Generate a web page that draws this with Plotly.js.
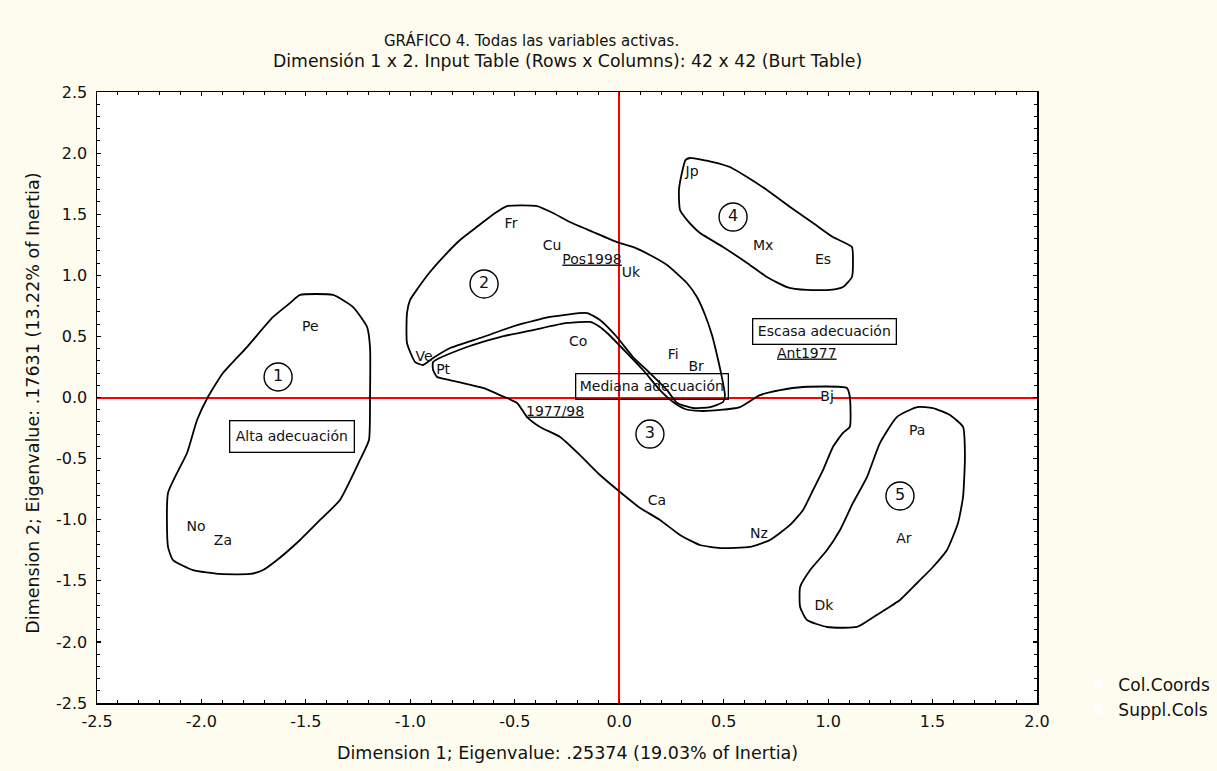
<!DOCTYPE html>
<html>
<head>
<meta charset="utf-8">
<script src="https://cdn.plot.ly/plotly-3.0.1.min.js"></script>
<style>html,body{margin:0;padding:0;background:#fefcee;}#chart{width:1217px;height:771px;}</style>
</head>
<body>
<div id="chart"></div>
<script>
// Active column categories (Col.Coords)
const colLabels = ["Pe","No","Za","Ve","Pt","Fr","Cu","Uk","Co","Fi","Br","Ca","Nz","Jp","Mx","Es","Bj","Pa","Ar","Dk"];
const colX = [-1.479,-2.026,-1.897,-0.934,-0.843,-0.518,-0.322,0.056,-0.197,0.258,0.368,0.181,0.669,0.349,0.689,0.976,0.995,1.426,1.363,0.980];
const colY = [0.569,-1.060,-1.182,0.331,0.225,1.416,1.232,1.011,0.454,0.340,0.242,-0.847,-1.125,1.845,1.232,1.125,0.004,-0.282,-1.166,-1.714];

// Supplementary columns (Suppl.Cols)
const supLabels = ["Pos1998","1977/98","Ant1977"];
const supX = [-0.130,-0.307,0.898];
const supY = [1.125,-0.119,0.356];

// Group numbers
const groupLabels = ["1","2","3","4","5"];
const groupX = [-1.633,-0.647,0.147,0.545,1.344];
const groupY = [0.168,0.929,-0.299,1.477,-0.806];

// Boxed level labels
const boxLabels = ["Alta adecuación","Mediana adecuación","Escasa adecuación"];
const boxX = [-1.566,0.157,0.984];
const boxY = [-0.323,0.094,0.544];

// Hand-drawn group outlines (data units)
const outline1X = [-1.528,-1.370,-1.274,-1.207,-1.193,-1.193,-1.198,-1.241,-1.337,-1.432,-1.528,-1.638,-1.705,-1.767,-1.911,-2.040,-2.136,-2.160,-2.160,-2.069,-2.021,-1.969,-1.897,-1.782,-1.657,-1.576,-1.528];
const outline1Y = [0.839,0.839,0.740,0.577,0.413,0.004,-0.348,-0.511,-0.839,-1.002,-1.166,-1.330,-1.412,-1.444,-1.444,-1.412,-1.330,-1.223,-0.781,-0.454,-0.184,0.004,0.200,0.413,0.659,0.773,0.839];

const outline2X = [-1.016,-1.001,-0.963,-0.906,-0.834,-0.762,-0.676,-0.594,-0.537,-0.393,-0.317,-0.236,-0.125,-0.011,0.066,0.147,0.229,0.324,0.372,0.411,0.444,0.468,0.492,0.506,0.497,0.435,0.353,0.277,0.229,0.147,0.066,-0.011,-0.092,-0.154,-0.331,-0.489,-0.652,-0.810,-0.891,-0.939,-0.977,-1.016,-1.016];
const outline2Y = [0.691,0.798,0.896,1.027,1.166,1.289,1.403,1.510,1.567,1.567,1.510,1.436,1.354,1.272,1.232,1.166,1.084,0.937,0.822,0.675,0.511,0.348,0.160,0.020,-0.037,-0.078,-0.086,-0.045,0.061,0.200,0.331,0.495,0.634,0.691,0.659,0.593,0.495,0.405,0.323,0.266,0.290,0.446,0.691];

const outline3X = [-0.891,-0.729,-0.571,-0.413,-0.250,-0.140,-0.092,-0.058,0.037,0.114,0.195,0.258,0.315,0.387,0.483,0.578,0.674,0.770,0.880,1.090,1.104,1.104,1.071,1.023,0.976,0.928,0.880,0.818,0.722,0.626,0.483,0.387,0.291,0.195,0.100,0.004,-0.092,-0.188,-0.283,-0.379,-0.441,-0.489,-0.571,-0.652,-0.810,-0.872,-0.891,-0.891];
const outline3Y = [0.290,0.413,0.495,0.552,0.610,0.618,0.577,0.528,0.364,0.225,0.061,-0.037,-0.094,-0.110,-0.102,-0.078,0.020,0.061,0.086,0.078,0.004,-0.241,-0.290,-0.405,-0.593,-0.757,-0.921,-1.043,-1.166,-1.223,-1.232,-1.207,-1.125,-1.002,-0.904,-0.773,-0.634,-0.471,-0.323,-0.241,-0.160,-0.045,0.020,0.078,0.143,0.168,0.225,0.290];

const outline4X = [0.317,0.339,0.449,0.530,0.612,0.707,0.818,0.928,1.023,1.114,1.119,1.114,1.071,1.009,0.899,0.803,0.707,0.612,0.497,0.387,0.325,0.291,0.286,0.301,0.317];
const outline4Y = [1.943,1.960,1.927,1.886,1.804,1.698,1.559,1.428,1.313,1.232,1.125,0.986,0.904,0.880,0.880,0.904,0.986,1.101,1.232,1.346,1.452,1.534,1.698,1.845,1.943];

const outline5X = [1.426,1.502,1.583,1.646,1.655,1.646,1.622,1.569,1.502,1.426,1.344,1.248,1.138,0.995,0.899,0.866,0.866,0.914,0.995,1.057,1.119,1.186,1.248,1.329,1.426];
const outline5Y = [-0.078,-0.086,-0.143,-0.241,-0.487,-0.814,-1.027,-1.248,-1.387,-1.518,-1.657,-1.763,-1.878,-1.878,-1.821,-1.714,-1.551,-1.412,-1.248,-1.084,-0.863,-0.651,-0.373,-0.160,-0.078];

// Axis ticks
const tickVals = [-2.5,-2.0,-1.5,-1.0,-0.5,0.0,0.5,1.0,1.5,2.0,2.5];
const tickText = ["-2.5","-2.0","-1.5","-1.0","-0.5","0.0","0.5","1.0","1.5","2.0","2.5"];

const FONT = "DejaVu Sans, Liberation Sans, Arial, sans-serif";
const INK = '#111';
const outlines = [[outline1X,outline1Y],[outline2X,outline2Y],[outline3X,outline3Y],[outline4X,outline4Y],[outline5X,outline5Y]];

const traces = outlines.map(o => ({
  x: o[0], y: o[1], type: 'scatter', mode: 'lines',
  line: {color: 'black', width: 1.8, shape: 'spline', smoothing: 0.5},
  showlegend: false, hoverinfo: 'skip'
}));

traces.push({
  x: colX, y: colY, text: colLabels, type: 'scatter', mode: 'markers+text',
  name: 'Col.Coords', textposition: 'middle center',
  marker: {color: 'white', size: 10, line: {width: 0}},
  textfont: {family: FONT, size: 14, color: INK}
});
traces.push({
  x: supX, y: supY, text: supLabels.map(s => '<u>' + s + '</u>'), type: 'scatter', mode: 'markers+text',
  name: 'Suppl.Cols', textposition: 'middle center',
  marker: {color: 'white', size: 10, line: {width: 0}},
  textfont: {family: FONT, size: 14, color: INK}
});
traces.push({
  x: groupX, y: groupY, text: groupLabels, type: 'scatter', mode: 'markers+text',
  textposition: 'middle center', showlegend: false, hoverinfo: 'skip',
  marker: {symbol: 'circle-open', size: 28, color: 'black', line: {width: 1.4, color: 'black'}},
  textfont: {family: FONT, size: 16, color: INK}
});

const boxW = [121, 149, 140];
const boxH = [28, 22, 22];
const annotations = boxLabels.map((t, i) => ({
  x: boxX[i], y: boxY[i], xref: 'x', yref: 'y', xanchor: 'center', yanchor: 'middle',
  text: t, showarrow: false,
  font: {family: FONT, size: 14, color: INK},
  bordercolor: 'black', borderwidth: 1.3, borderpad: 1, bgcolor: 'rgba(255,255,255,0)',
  width: boxW[i], height: boxH[i]
}));
annotations.push(
  {xref: 'paper', yref: 'paper', x: 0.462, y: 1.085, xanchor: 'center', yanchor: 'middle', text: 'GRÁFICO 4. Todas las variables activas.', showarrow: false, font: {family: FONT, size: 15, color: INK}},
  {xref: 'paper', yref: 'paper', x: 0.5, y: 1.051, xanchor: 'center', yanchor: 'middle', text: 'Dimensión 1 x 2. Input Table (Rows x Columns): 42 x 42 (Burt Table)', showarrow: false, font: {family: FONT, size: 17.3, color: INK}},
  {xref: 'paper', yref: 'paper', x: 0.5, y: -0.082, xanchor: 'center', yanchor: 'middle', text: 'Dimension 1; Eigenvalue: .25374 (19.03% of Inertia)', showarrow: false, font: {family: FONT, size: 17.5, color: INK}},
  {xref: 'paper', yref: 'paper', x: -0.068, y: 0.49, xanchor: 'center', yanchor: 'middle', textangle: -90, text: 'Dimension 2; Eigenvalue: .17631 (13.22% of Inertia)', showarrow: false, font: {family: FONT, size: 17.5, color: INK}}
);

const axisCommon = {
  tickmode: 'array', tickvals: tickVals, ticktext: tickText,
  ticks: 'inside', ticklen: 4, tickwidth: 1.2, tickcolor: 'black',
  minor: {dtick: 0.1, tick0: 0, ticks: 'inside', ticklen: 3, tickwidth: 1, tickcolor: 'black', showgrid: false},
  showgrid: false, zeroline: true, zerolinecolor: '#ff0000', zerolinewidth: 2,
  showline: true, linecolor: 'black', linewidth: 1.5, mirror: 'allticks',
  tickfont: {family: FONT, size: 16, color: INK}, automargin: false
};

const layout = {
  width: 1217, height: 771,
  paper_bgcolor: '#fefcee', plot_bgcolor: 'white',
  margin: {l: 97, r: 180, t: 92, b: 68, autoexpand: false},
  xaxis: Object.assign({}, axisCommon, {range: [-2.5, 2.0], ticklabelstandoff: 3}),
  yaxis: Object.assign({}, axisCommon, {range: [-2.5, 2.5], ticklabelstandoff: 5}),
  showlegend: true,
  legend: {x: 1.044, y: 0.06, xanchor: 'left', yanchor: 'top', bgcolor: 'rgba(0,0,0,0)',
           font: {family: FONT, size: 17, color: INK}, traceorder: 'normal'},
  annotations: annotations
};

Plotly.newPlot('chart', traces, layout, {displayModeBar: false, staticPlot: true});
</script>
</body>
</html>
